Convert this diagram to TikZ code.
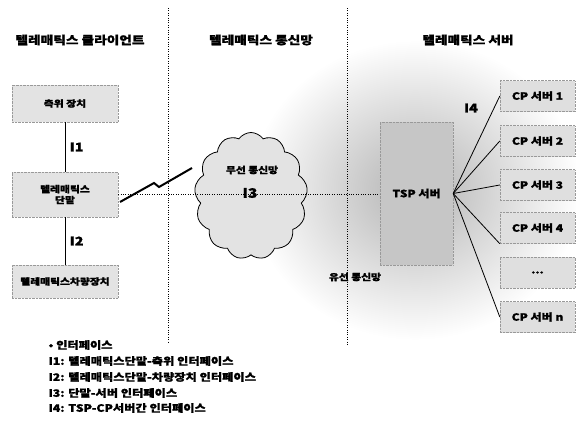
\documentclass[tikz,border=0pt]{standalone}
\usepackage{fontspec}
\setmainfont{Noto Sans CJK KR}[FakeStretch=1.2, BoldFeatures={FakeBold=1.2}]
\usetikzlibrary{shapes.symbols}
\begin{document}
\begin{tikzpicture}[x=1pt,y=-1pt,font=\bfseries,
  devbox/.style={draw=gray!80, densely dotted, fill=gray!22, minimum width=106pt, inner sep=1pt, align=center, font=\bfseries\fontsize{9}{11}\selectfont},
  cpbox/.style={draw=gray!80, densely dotted, fill=gray!25, minimum width=75pt, minimum height=31pt, inner sep=1pt, font=\bfseries\fontsize{10}{12}\selectfont},
  title/.style={font=\bfseries\fontsize{11.4}{13}\selectfont},
  ilabel/.style={font=\bfseries\fontsize{12}{14}\selectfont},
  divider/.style={line width=1pt, dash pattern=on 1pt off 1.4pt},
  conn/.style={line width=0.8pt},
  legend/.style={anchor=west, font=\bfseries\fontsize{10.2}{12}\selectfont}]
\useasboundingbox (0,0) rectangle (576,423);
% halftone area
\shade[inner color=gray!60, outer color=white] (415,190) ellipse (165 and 150);
% dividers
\coordinate (d1t) at (168,8); \coordinate (d1b) at (168,342);
\coordinate (d2t) at (347,8); \coordinate (d2b) at (347,346);
% titles
\node[title] (t1) at (80,40) {텔레매틱스 클라이언트};
\node[title] (t2) at (261,40) {텔레매틱스 통신망};
\node[title] (t3) at (468,40) {텔레매틱스 서버};
% client boxes
\node[devbox, minimum height=37pt] (pos) at (65,103.5) {측위 장치};
\node[devbox, minimum height=45pt] (term) at (65,194.5) {텔레매틱스\\단말};
\node[devbox, minimum height=33pt] (veh) at (65,281.5) {텔레매틱스차량장치};
\draw[conn] (pos) -- (term) node[midway, right=1pt, ilabel] (i1) {I1};
\draw[conn] (term) -- (veh) node[midway, right=1pt, ilabel] (i2) {I2};
% cloud
\node[cloud, cloud puffs=13, cloud puff arc=110, aspect=0.85, draw=black, thick, fill=gray!22, minimum width=113pt, minimum height=127pt, inner sep=0pt] (cloud) at (251,196) {};
\node[font=\bfseries\fontsize{9}{11}\selectfont] (wl) at (252,170) {무선 통신망};
\node[ilabel, font=\bfseries\fontsize{13}{15}\selectfont] (i3) at (250,193) {I3};
% TSP server
\node[draw=gray!80, densely dotted, fill=gray!45, minimum width=73pt, minimum height=143pt, font=\bfseries\fontsize{10}{12}\selectfont] (tsp) at (416.5,193.5) {TSP 서버};
\node[font=\bfseries\fontsize{9}{11}\selectfont] (wired) at (355,277) {유선 통신망};
% dividers on top
\draw[divider] (d1t) -- (d1b);
\draw[divider] (d2t) -- (d2b);
% dotted link
\draw[divider, line width=0.9pt] (term.east) -- (tsp.west |- term.east);
% lightning
\coordinate (l1) at (120,202); \coordinate (l2) at (154,183);
\coordinate (l3) at (159,187); \coordinate (l4) at (192,168);
\draw[line width=2pt, line join=miter] (l1) -- (l2) -- (l3) -- (l4);
% CP servers
\node[cpbox] (cp1) at (537.5,96) {CP 서버 1};
\node[cpbox] (cp2) at (537.5,141) {CP 서버 2};
\node[cpbox] (cp3) at (537.5,185) {CP 서버 3};
\node[cpbox] (cp4) at (537.5,228) {CP 서버 4};
\node[cpbox] (cpd) at (537.5,272.5) {...};
\node[cpbox] (cpn) at (537.5,317) {CP 서버 n};
\coordinate (hub) at (tsp.east);
\draw[conn] (hub) -- (cp1.west);
\draw[conn] (hub) -- (cp2.west);
\draw[conn] (hub) -- (cp3.west);
\draw[conn] (hub) -- (cp4.south west);
\draw[conn] (hub) -- (cpn.west);
\node[ilabel] (i4) at (471,108) {I4};
% legend
\node[legend] (lg0) at (45,345) {• 인터페이스};
\node[legend] (lg1) at (45,361) {I1: 텔레매틱스단말-측위 인터페이스};
\node[legend] (lg2) at (45,377) {I2: 텔레매틱스단말-차량장치 인터페이스};
\node[legend] (lg3) at (45,393) {I3: 단말-서버 인터페이스};
\node[legend] (lg4) at (45,408) {I4: TSP-CP서버간 인터페이스};
\end{tikzpicture}
\end{document}
